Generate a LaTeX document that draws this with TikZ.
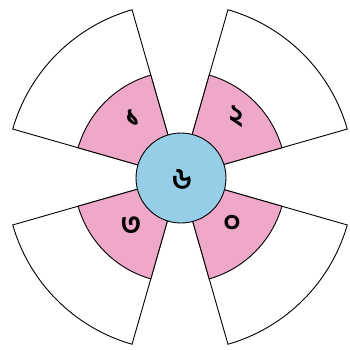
\documentclass[tikz,border=0pt]{standalone}
\usepackage{fontspec}
\newfontfamily\bnfont[Script=Bengali]{Hind Siliguri}
\definecolor{petal}{RGB}{240,168,200}
\definecolor{hub}{RGB}{150,206,232}
\begin{document}
\begin{tikzpicture}[x=1pt,y=-1pt,
  outerpart/.style={draw=black,fill=white,line width=0.9pt,line join=miter},
  innerpart/.style={draw=black,fill=petal,line width=0.9pt},
  hubstyle/.style={draw=black,fill=hub,line width=0.9pt,circle,minimum size=90pt,inner sep=0pt},
  digit/.style={font=\bnfont\bfseries\fontsize{30}{30}\selectfont,inner sep=0pt}]
\useasboundingbox (0,0) rectangle (349,350);
\coordinate (c) at (180,177);
\foreach \a in {45,135,225,315}{
  \draw[outerpart] (c) -- ++(\a-29:174pt) arc[start angle=\a-29,end angle=\a+29,radius=174pt] -- cycle;
  \draw[innerpart] (c) -- ++(\a-29:106pt) arc[start angle=\a-29,end angle=\a+29,radius=106pt] -- cycle;
}
\node[hubstyle] (h) at (181,178) {};
\node[digit] (d6) at (182,179) {৬};
\node[digit] (d1) at (133,118) {১};
\node[digit] (d2) at (236,117) {২};
\node[digit] (d3) at (131,226) {৩};
\node[digit] (d0) at (232,224) {০};
\end{tikzpicture}
\end{document}
